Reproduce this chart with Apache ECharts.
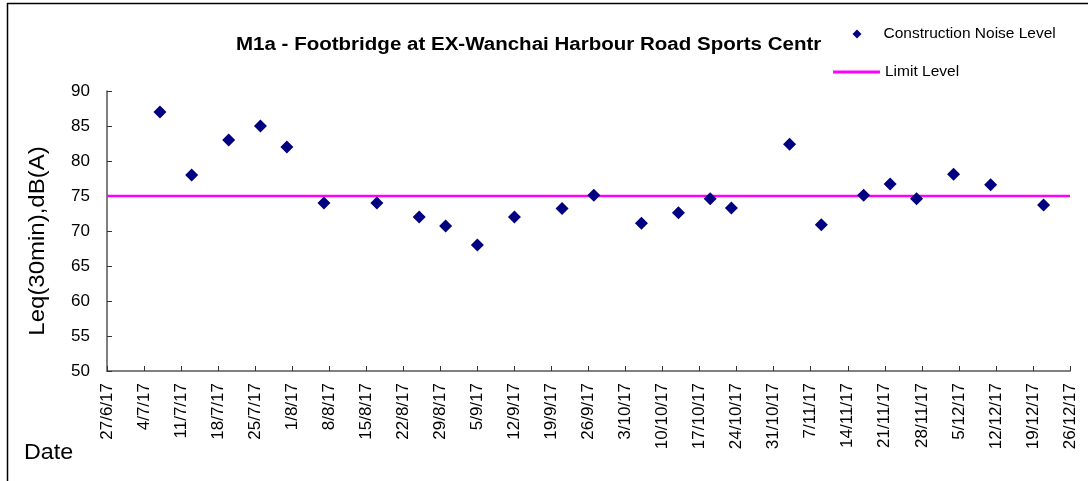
<!DOCTYPE html>
<html>
<head>
<meta charset="utf-8">
<script src="https://cdn.jsdelivr.net/npm/echarts@6/dist/echarts.min.js"></script>
<style>
  html, body { margin: 0; padding: 0; background: #fff; }
  #chart { width: 1088px; height: 481px; }
</style>
</head>
<body>
<div id="chart"></div>
<script>
// weekly tick labels, 27/6/17 .. 26/12/17
var tickLabels = ['27/6/17', '4/7/17', '11/7/17', '18/7/17', '25/7/17', '1/8/17', '8/8/17',
  '15/8/17', '22/8/17', '29/8/17', '5/9/17', '12/9/17', '19/9/17', '26/9/17', '3/10/17',
  '10/10/17', '17/10/17', '24/10/17', '31/10/17', '7/11/17', '14/11/17', '21/11/17',
  '28/11/17', '5/12/17', '12/12/17', '19/12/17', '26/12/17'];

var startDate = '2017-06-27';
var endDate = '2017-12-26';

var measureDates = ['2017-07-07', '2017-07-13', '2017-07-20', '2017-07-26', '2017-07-31',
  '2017-08-07', '2017-08-17', '2017-08-25', '2017-08-30', '2017-09-05', '2017-09-12',
  '2017-09-21', '2017-09-27', '2017-10-06', '2017-10-13', '2017-10-19', '2017-10-23',
  '2017-11-03', '2017-11-09', '2017-11-17', '2017-11-22', '2017-11-27', '2017-12-04',
  '2017-12-11', '2017-12-21'];
var noiseLevels = [87.0, 78.0, 83.0, 85.0, 82.0, 74.0, 74.0, 72.0, 70.7, 68.0, 72.0,
  73.2, 75.1, 71.1, 72.6, 74.6, 73.3, 82.4, 70.9, 75.1, 76.7, 74.6, 78.1, 76.6, 73.7];

var limitLevel = 75;

// days since the first tick
function dayOf(d) {
  return Math.round((Date.parse(d) - Date.parse(startDate)) / 86400000);
}

var noiseData = measureDates.map(function (d, i) { return [dayOf(d), noiseLevels[i]]; });
var limitData = [[dayOf(startDate), limitLevel], [dayOf(endDate), limitLevel]];

var font = '"Liberation Sans", Arial, sans-serif';

var myChart = echarts.init(document.getElementById('chart'));
var option = {
  backgroundColor: '#fff',
  animation: false,
  legend: [
    {
      data: [{ name: 'Construction Noise Level', icon: 'diamond' }],
      left: 852.5,
      top: 25,
      padding: 0,
      itemWidth: 9,
      itemHeight: 9,
      itemStyle: { color: '#000080', opacity: 1 },
      textStyle: { fontFamily: font, fontSize: 15.5, color: '#000', lineHeight: 18, padding: [0, 0, 0, 17] }
    },
    {
      data: [{ name: 'Limit Level', icon: 'rect' }],
      left: 833,
      top: 63,
      padding: 0,
      itemWidth: 47,
      itemHeight: 3,
      itemStyle: { color: '#FF00FF' },
      textStyle: { fontFamily: font, fontSize: 15.5, color: '#000', lineHeight: 18 }
    }
  ],
  grid: { left: 107, right: 18, top: 91, bottom: 110 },
  xAxis: {
    type: 'value',
    min: 0,
    max: 182,
    interval: 7,
    splitLine: { show: false },
    axisLine: { lineStyle: { color: '#808080', width: 2 } },
    axisTick: { inside: true, length: 5, lineStyle: { color: '#333' } },
    axisLabel: {
      rotate: 90,
      margin: 12,
      fontFamily: font,
      fontSize: 17,
      color: '#000',
      showMinLabel: true,
      showMaxLabel: true,
      formatter: function (v) { return tickLabels[Math.round(v / 7)]; }
    }
  },
  yAxis: {
    type: 'value',
    min: 50,
    max: 90,
    interval: 5,
    splitLine: { show: false },
    axisLine: { show: true, lineStyle: { color: '#555', width: 1.5 } },
    axisTick: { inside: true, length: 5, lineStyle: { color: '#333' } },
    axisLabel: { margin: 17, fontFamily: font, fontSize: 17, color: '#000' }
  },
  series: [
    {
      name: 'Construction Noise Level',
      type: 'scatter',
      symbol: 'diamond',
      symbolSize: 13,
      itemStyle: { color: '#000080', opacity: 1 },
      data: noiseData,
      z: 3
    },
    {
      name: 'Limit Level',
      type: 'line',
      symbol: 'none',
      itemStyle: { color: '#FF00FF' },
      lineStyle: { color: '#FF00FF', width: 2.5 },
      data: limitData,
      z: 2
    }
  ],
  graphic: [
    { type: 'line', shape: { x1: 7, y1: 3.5, x2: 1088, y2: 3.5 }, style: { stroke: '#000', lineWidth: 1.5 } },
    { type: 'line', shape: { x1: 7.5, y1: 3, x2: 7.5, y2: 481 }, style: { stroke: '#000', lineWidth: 1.5 } },
    {
      // chart title, cut off by the legend as in the source
      type: 'text',
      x: 236,
      y: 45,
      scaleX: 1.14,
      style: {
        text: 'M1a - Footbridge at EX-Wanchai Harbour Road Sports Centre',
        fontFamily: font,
        fontSize: 18,
        fontWeight: 'bold',
        fill: '#000',
        verticalAlign: 'middle',
        width: 520,
        overflow: 'truncate',
        ellipsis: ''
      }
    },
    {
      type: 'text',
      x: 38,
      y: 241,
      rotation: Math.PI / 2,
      scaleX: 1.09,
      style: {
        text: 'Leq(30min),dB(A)',
        fontFamily: font,
        fontSize: 22,
        fill: '#000',
        align: 'center',
        verticalAlign: 'middle'
      }
    },
    {
      type: 'text',
      x: 24,
      y: 453,
      scaleX: 1.06,
      style: { text: 'Date', fontFamily: font, fontSize: 22, fill: '#000', verticalAlign: 'middle' }
    }
  ]
};

myChart.setOption(option);
</script>
</body>
</html>
